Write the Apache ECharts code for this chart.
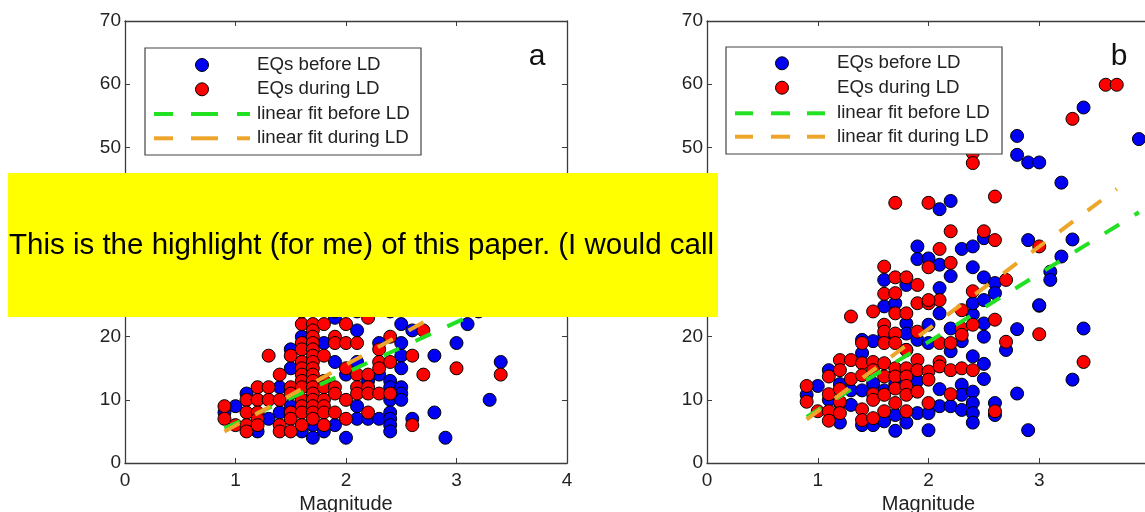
<!DOCTYPE html>
<html>
<head>
    <meta charset="utf-8">
    <title></title>
    <script src="https://cdn.jsdelivr.net/npm/echarts@6/dist/echarts.min.js"></script>
    <style>
        html, body { margin: 0; padding: 0; background: #fff; }
        #container { width: 1145px; height: 512px; }
    </style>
</head>
<body>
<div id="container"></div>
<script type="text/javascript">
    // tick values
    var magTicks = [0, 1, 2, 3, 4];
    var durTicks = [0, 10, 20, 30, 40, 50, 60, 70];

    // panel a: [magnitude, value]
    var aBefore = [[0.9, 8], [1.0, 9], [1.1, 11], [1.2, 5], [1.3, 7], [1.4, 12], [1.4, 8], [1.5, 18], [1.5, 15], [1.5, 9],
        [1.6, 20], [1.6, 5], [1.7, 6], [1.7, 4], [1.8, 19], [1.8, 5], [1.9, 23], [1.9, 16], [1.9, 6], [2.0, 14], [2.0, 4],
        [2.1, 21], [2.1, 16], [2.1, 9], [2.1, 7], [2.2, 13], [2.2, 7], [2.3, 19], [2.3, 14], [2.3, 7], [2.4, 13], [2.4, 12],
        [2.4, 10], [2.4, 8], [2.4, 7], [2.4, 6], [2.4, 5], [2.5, 22], [2.5, 19], [2.5, 17], [2.5, 15], [2.5, 12], [2.5, 11],
        [2.5, 10], [2.6, 21], [2.6, 7], [2.8, 17], [2.8, 8], [2.9, 4], [3.0, 19], [3.1, 22], [3.3, 10], [3.4, 16],
        [1.9, 24], [2.1, 24], [2.4, 24], [3.2, 24], [2.0, 27], [2.2, 30], [2.6, 26], [2.8, 33]];
    var aDuring = [[0.9, 9], [0.9, 7], [1.0, 6], [1.1, 10], [1.1, 8], [1.1, 6], [1.1, 5], [1.2, 12], [1.2, 10], [1.2, 8],
        [1.2, 7], [1.2, 6], [1.3, 17], [1.3, 12], [1.3, 10], [1.4, 14], [1.4, 10], [1.4, 6], [1.4, 5], [1.5, 17], [1.5, 12],
        [1.5, 11], [1.5, 8], [1.5, 7], [1.5, 5], [1.6, 22], [1.6, 19], [1.6, 18], [1.6, 16], [1.6, 15], [1.6, 14], [1.6, 13],
        [1.6, 12], [1.6, 10], [1.6, 9], [1.6, 8], [1.6, 6], [1.7, 22], [1.7, 21], [1.7, 20], [1.7, 19], [1.7, 18], [1.7, 17],
        [1.7, 16], [1.7, 15], [1.7, 14], [1.7, 13], [1.7, 12], [1.7, 11], [1.7, 10], [1.7, 9], [1.7, 8], [1.7, 7], [1.8, 22],
        [1.8, 17], [1.8, 13], [1.8, 12], [1.8, 10], [1.8, 9], [1.8, 8], [1.8, 6], [1.9, 20], [1.9, 19], [1.9, 12], [1.9, 11],
        [1.9, 8], [2.0, 22], [2.0, 19], [2.0, 15], [2.0, 10], [2.0, 7], [2.1, 19], [2.1, 14], [2.1, 12], [2.1, 11], [2.2, 23],
        [2.2, 14], [2.2, 12], [2.2, 11], [2.2, 8], [2.3, 18], [2.3, 16], [2.3, 15], [2.3, 11], [2.4, 20], [2.4, 16], [2.4, 11],
        [2.6, 17], [2.6, 6], [2.7, 21], [2.7, 14], [3.0, 15], [3.4, 14], [1.6, 24], [1.8, 26], [2.0, 29]];
    var aFitBefore = [[0.9, 5.5], [3.4, 25.5]];
    var aFitDuring = [[0.9, 5.0], [3.4, 29.0]];

    // panel b
    var bBefore = [[0.9, 10.8], [1.0, 12.2], [1.1, 14.7], [1.1, 10], [1.2, 12.5], [1.2, 9.5], [1.2, 6.4], [1.3, 11.5],
        [1.3, 9.2], [1.4, 19.5], [1.4, 17.4], [1.4, 11.5], [1.4, 6], [1.5, 19.3], [1.5, 12.6], [1.5, 6], [1.6, 20],
        [1.6, 11.5], [1.6, 6.6], [1.7, 14], [1.7, 12.5], [1.7, 7.6], [1.7, 5.1], [1.8, 22.1], [1.8, 20.5], [1.8, 17.9],
        [1.8, 6.4], [1.9, 19.5], [1.9, 13], [1.9, 7.9], [2.0, 21.9], [2.0, 19], [2.0, 7.9], [2.0, 5.2], [2.1, 11.7], [2.1, 9],
        [2.2, 21.3], [2.2, 17.7], [2.2, 9], [2.3, 19.3], [2.3, 12.4], [2.3, 10.8], [2.3, 8.4], [2.4, 23.5], [2.4, 16.9],
        [2.4, 11.3], [2.4, 9.5], [2.4, 7.9], [2.4, 6.4], [2.5, 22.1], [2.5, 20], [2.5, 15.7], [2.5, 13.3], [2.6, 9.5],
        [2.6, 7.6], [2.7, 17.9], [2.8, 21.2], [2.8, 11], [2.9, 5.2], [3.0, 24.9], [3.3, 13.2], [3.4, 21.3],
        [1.6, 24.8], [1.6, 29], [1.7, 25.3], [1.8, 28.2], [1.9, 34.3], [1.9, 32.3], [2.0, 32.4], [2.1, 40.2], [2.1, 31.4],
        [2.1, 27.7], [2.1, 23.7], [2.2, 41.5], [2.2, 29.6], [2.3, 33.9], [2.4, 34.3], [2.4, 31.0], [2.4, 25.3], [2.5, 35.6],
        [2.5, 29.4], [2.5, 25.8], [2.6, 28.5], [2.6, 26.9], [2.8, 51.8], [2.8, 48.8], [2.9, 47.6], [2.9, 35.3], [3.0, 47.6],
        [3.0, 25.0], [3.1, 30.3], [3.1, 29], [3.2, 44.4], [3.2, 32.7], [3.3, 35.4], [3.4, 56.3], [3.9, 51.3]];
    var bDuring = [[0.9, 12.2], [0.9, 9.7], [1.0, 8.2], [1.1, 13.7], [1.1, 10.9], [1.1, 8.2], [1.1, 6.7], [1.2, 16.3],
        [1.2, 14.7], [1.2, 11.7], [1.2, 9.7], [1.2, 7.9], [1.3, 16.3], [1.3, 13.3], [1.4, 19], [1.4, 15.8], [1.4, 13.9],
        [1.4, 8.5], [1.4, 6.8], [1.5, 24], [1.5, 16], [1.5, 14.7], [1.5, 10.9], [1.5, 10], [1.5, 7.1], [1.6, 21.9],
        [1.6, 20.8], [1.6, 19], [1.6, 15.8], [1.6, 13.7], [1.6, 10.8], [1.6, 8.2], [1.7, 23.7], [1.7, 20.5], [1.7, 19],
        [1.7, 15], [1.7, 13.7], [1.7, 11.8], [1.7, 9.5], [1.8, 23.7], [1.8, 17.9], [1.8, 15], [1.8, 13.7], [1.8, 12.2],
        [1.8, 10.8], [1.8, 8.2], [1.9, 25.3], [1.9, 20.8], [1.9, 16.3], [1.9, 14.7], [1.9, 11.3], [2.0, 25.3], [2.0, 14.5],
        [2.0, 13.2], [2.0, 9.5], [2.1, 25.8], [2.1, 19], [2.1, 16], [2.1, 15.3], [2.2, 19], [2.2, 14.7], [2.2, 10.9],
        [2.3, 24.2], [2.3, 21.3], [2.3, 20.3], [2.3, 15], [2.4, 21.9], [2.4, 14.7], [2.6, 22.7], [2.6, 8.2], [2.7, 19.2],
        [3.0, 20.4], [3.4, 16],
        [1.3, 23.2], [1.6, 31.1], [1.6, 26.8], [1.7, 41.2], [1.7, 29.4], [1.7, 26.9], [1.8, 29.4], [1.9, 28.2], [2.0, 41.2],
        [2.0, 31.0], [2.0, 25.8], [2.1, 33.9], [2.2, 36.7], [2.2, 31.7], [2.4, 49.1], [2.4, 47.5], [2.4, 27.2], [2.5, 36.7],
        [2.6, 42.2], [2.6, 35.3], [2.7, 29], [3.0, 34.3], [3.3, 54.5], [3.6, 59.9], [3.7, 59.9]];
    var bFitBefore = [[0.9, 7.3], [3.9, 39.7]];
    var bFitDuring = [[0.9, 6.9], [3.7, 43.4]];

    var legendNames = ['EQs before LD', 'EQs during LD', 'linear fit before LD', 'linear fit during LD'];
    var note = 'This is the highlight (for me) of this paper. (I would call';

    var FONT = '"Liberation Sans", Arial, Helvetica, sans-serif';
    var BLUE = '#0000f5', RED = '#ff0000', GREEN = '#22e022', ORANGE = '#eea62a';
    var AXC = '#3c3c3c';

    var dom = document.getElementById('container');
    var myChart = echarts.init(dom);

    function xAx(grid, pos) {
        var main = pos === 'bottom';
        return {
            type: 'value', gridIndex: grid, position: pos,
            min: magTicks[0], max: magTicks[magTicks.length - 1], interval: magTicks[1] - magTicks[0],
            name: main ? 'Magnitude' : '', nameLocation: 'middle', nameGap: 27,
            nameTextStyle: { fontFamily: FONT, fontSize: 20, color: '#222' },
            axisLine: { show: true, onZero: false, lineStyle: { color: AXC, width: 1.3 } },
            axisTick: { show: true, inside: true, length: 5, lineStyle: { color: AXC } },
            axisLabel: { show: main, margin: 8, fontFamily: FONT, fontSize: 19, color: '#222' },
            splitLine: { show: false }
        };
    }

    function yAx(grid, pos) {
        var main = pos === 'left';
        return {
            type: 'value', gridIndex: grid, position: pos,
            min: durTicks[0], max: durTicks[durTicks.length - 1], interval: durTicks[1] - durTicks[0],
            axisLine: { show: true, onZero: false, lineStyle: { color: AXC, width: 1.3 } },
            axisTick: { show: true, inside: true, length: 5, lineStyle: { color: AXC } },
            axisLabel: { show: main, margin: 4, fontFamily: FONT, fontSize: 19, color: '#222' },
            splitLine: { show: false }
        };
    }

    function dots(data, color, axis, z) {
        return {
            type: 'scatter', data: data, xAxisIndex: axis, yAxisIndex: axis,
            symbol: 'circle', symbolSize: 13, z: z,
            itemStyle: { color: color, borderColor: '#000', borderWidth: 1, opacity: 1 },
            emphasis: { disabled: true }
        };
    }

    function fit(data, color, axis) {
        return {
            type: 'line', data: data, xAxisIndex: axis, yAxisIndex: axis,
            showSymbol: false, symbol: 'none', z: 5,
            lineStyle: { color: color, width: 4, type: [17, 18], cap: 'butt' },
            emphasis: { disabled: true }
        };
    }

    // legend boxes drawn as graphics
    function legendBox(x, y, rowsY, markerX, textX, dashes) {
        var els = [{
            type: 'rect', shape: { x: x, y: y, width: 276, height: 107 },
            style: { fill: '#fff', stroke: '#444', lineWidth: 1.2 }, z: 100
        }];
        var colors = [BLUE, RED, GREEN, ORANGE];
        for (var i = 0; i < 4; i++) {
            if (i < 2) {
                els.push({
                    type: 'circle', shape: { cx: markerX, cy: rowsY[i], r: 6.5 },
                    style: { fill: colors[i], stroke: '#000', lineWidth: 1 }, z: 101
                });
            } else {
                for (var k = 0; k < dashes.length; k++) {
                    els.push({
                        type: 'line', shape: { x1: dashes[k][0], y1: rowsY[i], x2: dashes[k][1], y2: rowsY[i] },
                        style: { stroke: colors[i], lineWidth: 4 }, z: 101
                    });
                }
            }
            els.push({
                type: 'text', x: textX, y: rowsY[i], z: 101,
                style: { text: legendNames[i], font: '18.7px ' + FONT, fill: '#222', verticalAlign: 'middle' }
            });
        }
        return els;
    }

    var graphics = []
        .concat(legendBox(145, 48, [65, 89.3, 114, 138.3], 202, 257, [[154, 173], [191, 218], [237, 250]]))
        .concat(legendBox(726, 47, [63.3, 87.7, 113.3, 136.7], 782, 837, [[735, 753], [771, 790], [807, 825]]))
        .concat([
            { type: 'text', x: 537, y: 72, z: 101, style: { text: 'a', font: '30px ' + FONT, fill: '#111', align: 'center', verticalAlign: 'bottom' } },
            { type: 'text', x: 1119, y: 72, z: 101, style: { text: 'b', font: '30px ' + FONT, fill: '#111', align: 'center', verticalAlign: 'bottom' } },
            { type: 'rect', shape: { x: 8, y: 173, width: 710, height: 144 }, style: { fill: '#ffff00' }, z: 200 },
            { type: 'text', x: 9, y: 246, z: 201, style: { text: note, font: '29.5px ' + FONT, fill: '#000', verticalAlign: 'middle' } }
        ]);

    var option = {
        animation: false,
        backgroundColor: '#fff',
        grid: [
            { left: 125, top: 21, width: 442, height: 442, outerBoundsMode: 'none' },
            { left: 707, top: 21, width: 443, height: 442, outerBoundsMode: 'none' }
        ],
        xAxis: [xAx(0, 'bottom'), xAx(1, 'bottom'), xAx(0, 'top'), xAx(1, 'top')],
        yAxis: [yAx(0, 'left'), yAx(1, 'left'), yAx(0, 'right'), yAx(1, 'right')],
        series: [
            dots(aBefore, BLUE, 0, 2),
            dots(aDuring, RED, 0, 3),
            fit(aFitBefore, GREEN, 0),
            fit(aFitDuring, ORANGE, 0),
            dots(bBefore, BLUE, 1, 2),
            dots(bDuring, RED, 1, 3),
            fit(bFitBefore, GREEN, 1),
            fit(bFitDuring, ORANGE, 1)
        ],
        graphic: graphics
    };
    myChart.setOption(option, true);
</script>
</body>
</html>
